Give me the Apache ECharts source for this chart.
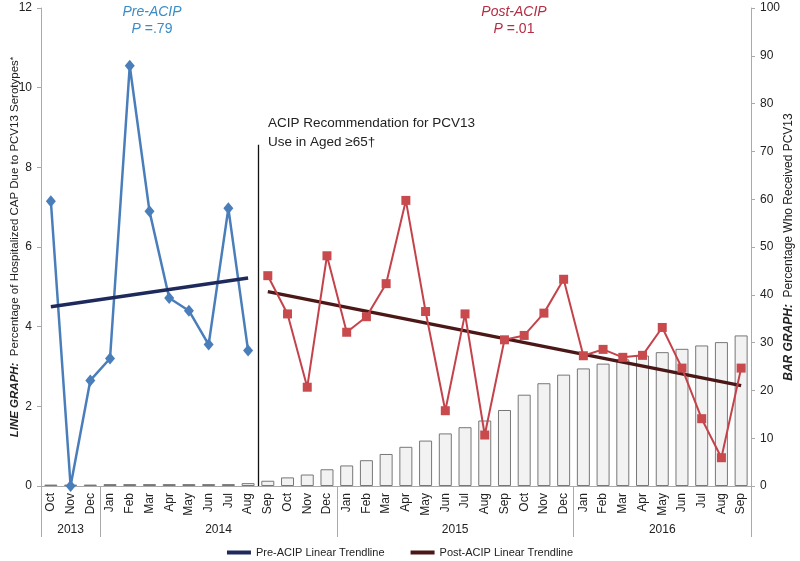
<!DOCTYPE html>
<html><head><meta charset="utf-8">
<script src="https://cdn.jsdelivr.net/npm/echarts@6/dist/echarts.min.js"></script>
<style>html,body{margin:0;padding:0;background:#fff}#c{width:800px;height:561px}</style>
</head><body><div id="c"></div>
<script>
// ---- data ----
const months = ['Oct','Nov','Dec',
  'Jan','Feb','Mar','Apr','May','Jun','Jul','Aug','Sep','Oct','Nov','Dec',
  'Jan','Feb','Mar','Apr','May','Jun','Jul','Aug','Sep','Oct','Nov','Dec',
  'Jan','Feb','Mar','Apr','May','Jun','Jul','Aug','Sep'];
const years = ['2013','2014','2015','2016'];
const monthsPerYear = [3, 12, 12, 9];
// BAR GRAPH: Percentage who received PCV13
const pctReceived = [0.3,0.3,0.3,0.4,0.4,0.4,0.4,0.4,0.4,0.4,0.6,
  1.1,1.8,2.4,3.5,4.3,5.4,6.7,8.2,9.5,11.0,12.3,13.7,15.9,19.1,21.5,23.3,
  24.6,25.6,26.5,27.3,28.0,28.7,29.4,30.1,31.5];
// LINE GRAPH: Percentage of hospitalized CAP due to PCV13 serotypes
const preACIP = [7.15,0,2.65,3.2,10.55,6.9,4.72,4.4,3.55,6.97,3.4];
const postACIP = [5.28,4.32,2.48,5.78,3.86,4.25,5.08,7.17,4.38,1.89,4.32,1.28,
  3.67,3.78,4.34,5.19,3.27,3.43,3.23,3.28,3.98,2.96,1.69,0.71,2.96];
const preTrend = [4.5, 5.22];   // start, end
const postTrend = [4.88, 2.52]; // start, end
const acipLineTop = 8.57;

// ---- build ----
const N = months.length;
const preData = months.map((m,i)=> i < preACIP.length ? preACIP[i] : null);
const postData = months.map((m,i)=> i >= preACIP.length ? postACIP[i-preACIP.length] : null);
const preTrendData = [[0, preTrend[0]], [preACIP.length-1, preTrend[1]]];
const postTrendData = [[preACIP.length, postTrend[0]], [N-1, postTrend[1]]];

// half-month axis for year groups
const halfCats = [];
for (let j = 0; j <= 2*N; j++) halfCats.push('h' + j);
const yearLabelAt = {};
const sepAt = new Set([0]);
let cum = 0;
monthsPerYear.forEach((n,i)=>{
  yearLabelAt[2*cum + n] = years[i];
  cum += n;
  sepAt.add(2*cum);
});
const acipIdx = 2*preACIP.length;

const FONT = 'Liberation Sans, Arial, sans-serif';
const chart = echarts.init(document.getElementById('c'));
chart.setOption({
  animation: false,
  backgroundColor: '#fff',
  textStyle: {fontFamily: FONT},
  grid: {left: 41, right: 49, top: 8, bottom: 75, containLabel: false, outerBoundsMode: 'none'},
  legend: {
    data: ['Pre-ACIP Linear Trendline','Post-ACIP Linear Trendline'],
    top: 542, left: 'center', itemWidth: 24, itemHeight: 4, itemGap: 26,
    textStyle: {fontFamily: FONT, fontSize: 11, color: '#222'},
    icon: 'rect'
  },
  xAxis: [{
    type: 'category', data: months, boundaryGap: true,
    axisLine: {show: true, lineStyle: {color: '#aaa'}},
    axisTick: {show: false},
    axisLabel: {rotate: 90, interval: 0, fontSize: 12, color: '#222', margin: 7, fontFamily: FONT},
    splitLine: {show: false}
  }, {
    type: 'category', data: halfCats, boundaryGap: false, position: 'bottom',
    axisLine: {show: false},
    axisTick: {show: true, length: 51, interval: (idx)=> sepAt.has(idx), lineStyle: {color: '#aaa'}},
    axisLabel: {interval: 0, margin: 38, fontSize: 12, color: '#222', fontFamily: FONT,
      formatter: (v, idx)=> yearLabelAt[idx] || ''},
    splitLine: {show: false}
  }],
  yAxis: [{
    type: 'value', min: 0, max: 12, interval: 2, position: 'left',
    axisLine: {show: true, lineStyle: {color: '#aaa'}},
    axisTick: {show: true, length: 4, lineStyle: {color: '#aaa'}},
    axisLabel: {fontSize: 12, color: '#222', margin: 9, fontFamily: FONT},
    splitLine: {show: false},
    name: '{b|LINE GRAPH:}  Percentage of Hospitalized CAP Due to PCV13 Serotypes{s|*}',
    nameLocation: 'middle', nameRotate: 90, nameGap: 20, nameMoveOverlap: false,
    nameTextStyle: {fontSize: 11.5, color: '#222', fontFamily: FONT,
      rich: {b: {fontWeight: 'bold', fontStyle: 'italic', fontSize: 11.5, color: '#222', fontFamily: FONT},
             s: {fontSize: 9, verticalAlign: 'top', color: '#222', fontFamily: FONT}}}
  }, {
    type: 'value', min: 0, max: 100, interval: 10, position: 'right',
    axisLine: {show: true, lineStyle: {color: '#aaa'}},
    axisTick: {show: true, length: 4, lineStyle: {color: '#aaa'}},
    axisLabel: {fontSize: 12, color: '#222', margin: 9, fontFamily: FONT},
    splitLine: {show: false},
    name: '{b|BAR GRAPH:}  Percentage Who Received PCV13',
    nameLocation: 'middle', nameRotate: 90, nameGap: 32, nameMoveOverlap: false,
    nameTextStyle: {fontSize: 12, color: '#222', fontFamily: FONT,
      rich: {b: {fontWeight: 'bold', fontStyle: 'italic', fontSize: 12, color: '#222', fontFamily: FONT}}}
  }],
  graphic: [
    {type: 'text', left: 268, top: 114, style: {text: 'ACIP Recommendation for PCV13\nUse in Aged \u226565\u2020',
      font: '13.5px ' + FONT, fill: '#222', lineHeight: 19}},
    {type: 'text', x: 152, y: 5, style: {text: 'Pre-ACIP', textAlign: 'center',
      font: 'italic 14px ' + FONT, fill: '#3a8cc6'}},
    {type: 'text', x: 152, y: 22, style: {text: '{i|P} =.79', textAlign: 'center',
      font: '14px ' + FONT, fill: '#3a8cc6',
      rich: {i: {fontStyle: 'italic', fontSize: 14, fontFamily: FONT, fill: '#3a8cc6', color: '#3a8cc6'}}}},
    {type: 'text', x: 514, y: 5, style: {text: 'Post-ACIP', textAlign: 'center',
      font: 'italic 14px ' + FONT, fill: '#b52d43'}},
    {type: 'text', x: 514, y: 22, style: {text: '{i|P} =.01', textAlign: 'center',
      font: '14px ' + FONT, fill: '#b52d43',
      rich: {i: {fontStyle: 'italic', fontSize: 14, fontFamily: FONT, fill: '#b52d43', color: '#b52d43'}}}}
  ],
  series: [
    {name: 'Percentage Who Received PCV13', type: 'bar', xAxisIndex: 0, yAxisIndex: 1,
      data: pctReceived, barWidth: 13,
      itemStyle: {color: '#f2f2f2', borderColor: '#777', borderWidth: 1}, z: 1, silent: true},
    {name: 'ACIP', type: 'line', xAxisIndex: 1, yAxisIndex: 0, data: halfCats.map(()=>null),
      symbol: 'none', silent: true,
      markLine: {symbol: 'none', silent: true, label: {show: false},
        lineStyle: {color: '#111', width: 1.3, type: 'solid'},
        data: [[{coord: [acipIdx, 0]}, {coord: [acipIdx, acipLineTop]}]]}},
    {name: 'Pre-ACIP', type: 'line', xAxisIndex: 0, yAxisIndex: 0, data: preData,
      symbol: 'diamond', symbolSize: [10, 12], connectNulls: false,
      lineStyle: {color: '#4a7ebb', width: 2.5}, itemStyle: {color: '#4a7ebb'}, z: 3},
    {name: 'Post-ACIP', type: 'line', xAxisIndex: 0, yAxisIndex: 0, data: postData,
      symbol: 'rect', symbolSize: 9,
      lineStyle: {color: '#c4434b', width: 2}, itemStyle: {color: '#c84a4d'}, z: 4},
    {name: 'Pre-ACIP Linear Trendline', type: 'line', xAxisIndex: 0, yAxisIndex: 0, data: preTrendData,
      symbol: 'none', lineStyle: {color: '#1f2a5c', width: 3.5}, itemStyle: {color: '#1f2a5c'}, z: 3.5},
    {name: 'Post-ACIP Linear Trendline', type: 'line', xAxisIndex: 0, yAxisIndex: 0, data: postTrendData,
      symbol: 'none', lineStyle: {color: '#4b1717', width: 3.5}, itemStyle: {color: '#4b1717'}, z: 3.5}
  ]
});
</script></body></html>
